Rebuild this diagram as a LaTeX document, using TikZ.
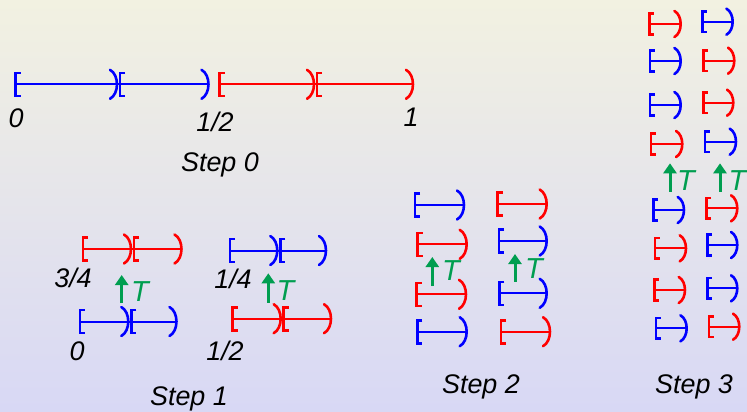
\documentclass[tikz,border=0pt]{standalone}
\usepackage{fontspec}
\setmainfont{Liberation Sans}
\usetikzlibrary{arrows.meta}
\definecolor{ivgreen}{RGB}{0,158,80}
\definecolor{bgtop}{RGB}{242,241,225}
\definecolor{bgmid}{RGB}{229,229,233}
\definecolor{bgbot}{RGB}{216,216,245}
\tikzset{
  lbr/.pic={\draw[line width=2.6bp,line join=miter] (5,-11.5) -- (0,-11.5) -- (0,11.5) -- (5,11.5);},
  rbr/.pic={\draw[line width=2.6bp,line cap=round] (-7,-14.5) .. controls (2.3,-9.5) and (2.3,9.5) .. (-7,14.5);},
  lbl/.style={anchor=base,inner sep=0pt,font=\fontsize{27}{32}\selectfont\itshape},
  tlbl/.style={anchor=base,inner sep=0pt,text=ivgreen,font=\fontsize{29}{34}\selectfont\itshape},
  arr/.style={draw=ivgreen,fill=ivgreen,line width=3bp,-{Triangle[width=13bp,length=10bp]}},
}
\newcommand\ivl[5][1]{%
  \draw[#2, line width=2bp] (#3,#5) -- (#4,#5);
  \pic[#2, scale=#1] at (#3,#5) {lbr};
  \pic[#2, scale=#1] at (#4,#5) {rbr};
}
\newcommand\ivlm[6][1]{%
  \ivl[#1]{#2}{#3}{#5}{#6}
  \pic[#2, scale=#1] at (#4,#6) {rbr};
  \pic[#2, scale=#1] at ({#4+3},#6) {lbr};
}
\begin{document}
\begin{tikzpicture}[x=1bp,y=-1bp]
\shade[top color=bgtop, middle color=bgmid, bottom color=bgbot] (0,0) rectangle (747,411);
\useasboundingbox (0,0) rectangle (747,411);

% Step 0
\ivlm{blue}{15.5}{117}{208.5}{84.3}
\ivlm{red}{219.5}{314}{413}{84.3}
\node[lbl] (z0) at (16,127) {0};
\node[lbl] (h0) at (215,131.5) {1/2};
\node[lbl] (o0) at (411,126.7) {1};
\node[lbl] (s0) at (220,171.5) {Step 0};

% Step 1
\ivlm{red}{83}{131}{181.5}{249}
\ivlm{blue}{230}{277.3}{326}{250.5}
\ivlm{blue}{80}{128.3}{176.5}{321.5}
\ivlm{red}{232.7}{280.7}{331}{318.7}
\node[lbl] (q3) at (73,287) {3/4};
\node[lbl] (q1) at (233,288) {1/4};
\node[lbl] (z1) at (77,360.5) {0};
\node[lbl] (h1) at (225,360) {1/2};
\coordinate (a1s) at (121.7,303); \coordinate (a1e) at (121.7,275);
\coordinate (a2s) at (268.3,302.7); \coordinate (a2e) at (268.3,273.3);
\draw[arr] (a1s) -- (a1e);
\draw[arr] (a2s) -- (a2e);
\node[tlbl] (t1) at (140,301) {T};
\node[tlbl] (t2) at (285.5,300) {T};
\node[lbl] (s1) at (189,405) {Step 1};

% Step 2
\ivl{blue}{415}{464}{205}
\ivl{red}{417.7}{466.7}{244.3}
\ivl{red}{416.7}{466}{294.3}
\ivl{blue}{417.3}{466.7}{331.7}
\ivl{red}{497.7}{546.7}{204}
\ivl{blue}{499}{546.7}{241}
\ivl{blue}{499.3}{546.7}{293.3}
\ivl{red}{501}{550}{331.7}
\coordinate (a3s) at (432.3,286); \coordinate (a3e) at (432.3,257);
\coordinate (a4s) at (515,281.7); \coordinate (a4e) at (515,254);
\draw[arr] (a3s) -- (a3e);
\draw[arr] (a4s) -- (a4e);
\node[tlbl] (t3) at (451,280) {T};
\node[tlbl] (t4) at (534,278.3) {T};
\node[lbl] (s2) at (481,393.3) {Step 2};

% Step 3
\ivl[0.9]{red}{649.3}{680.7}{24}
\ivl[0.9]{blue}{650}{680.7}{61}
\ivl[0.9]{blue}{650}{680.7}{105}
\ivl[0.9]{red}{651}{682.3}{144}
\ivl[0.9]{blue}{653.3}{684}{210}
\ivl[0.9]{red}{655}{686}{248.3}
\ivl[0.9]{red}{654.3}{685}{290}
\ivl[0.9]{blue}{656}{686.7}{328.3}
\ivl[0.9]{blue}{702.3}{732.7}{21.7}
\ivl[0.9]{red}{703.3}{734.3}{60.7}
\ivl[0.9]{red}{703.3}{733.3}{102.7}
\ivl[0.9]{blue}{705}{736}{141.7}
\ivl[0.9]{red}{706.7}{737.3}{208.3}
\ivl[0.9]{blue}{707.3}{737.3}{245}
\ivl[0.9]{blue}{707.3}{737.3}{288.3}
\ivl[0.9]{red}{709}{739.3}{326.7}
\coordinate (a5s) at (670,191.7); \coordinate (a5e) at (670,163.3);
\coordinate (a6s) at (720,191.7); \coordinate (a6e) at (720,163.3);
\draw[arr] (a5s) -- (a5e);
\draw[arr] (a6s) -- (a6e);
\node[tlbl] (t5) at (686,190) {T};
\node[tlbl] (t6) at (737.5,190) {T};
\node[lbl] (s3) at (694,393) {Step 3};
\end{tikzpicture}
\end{document}
